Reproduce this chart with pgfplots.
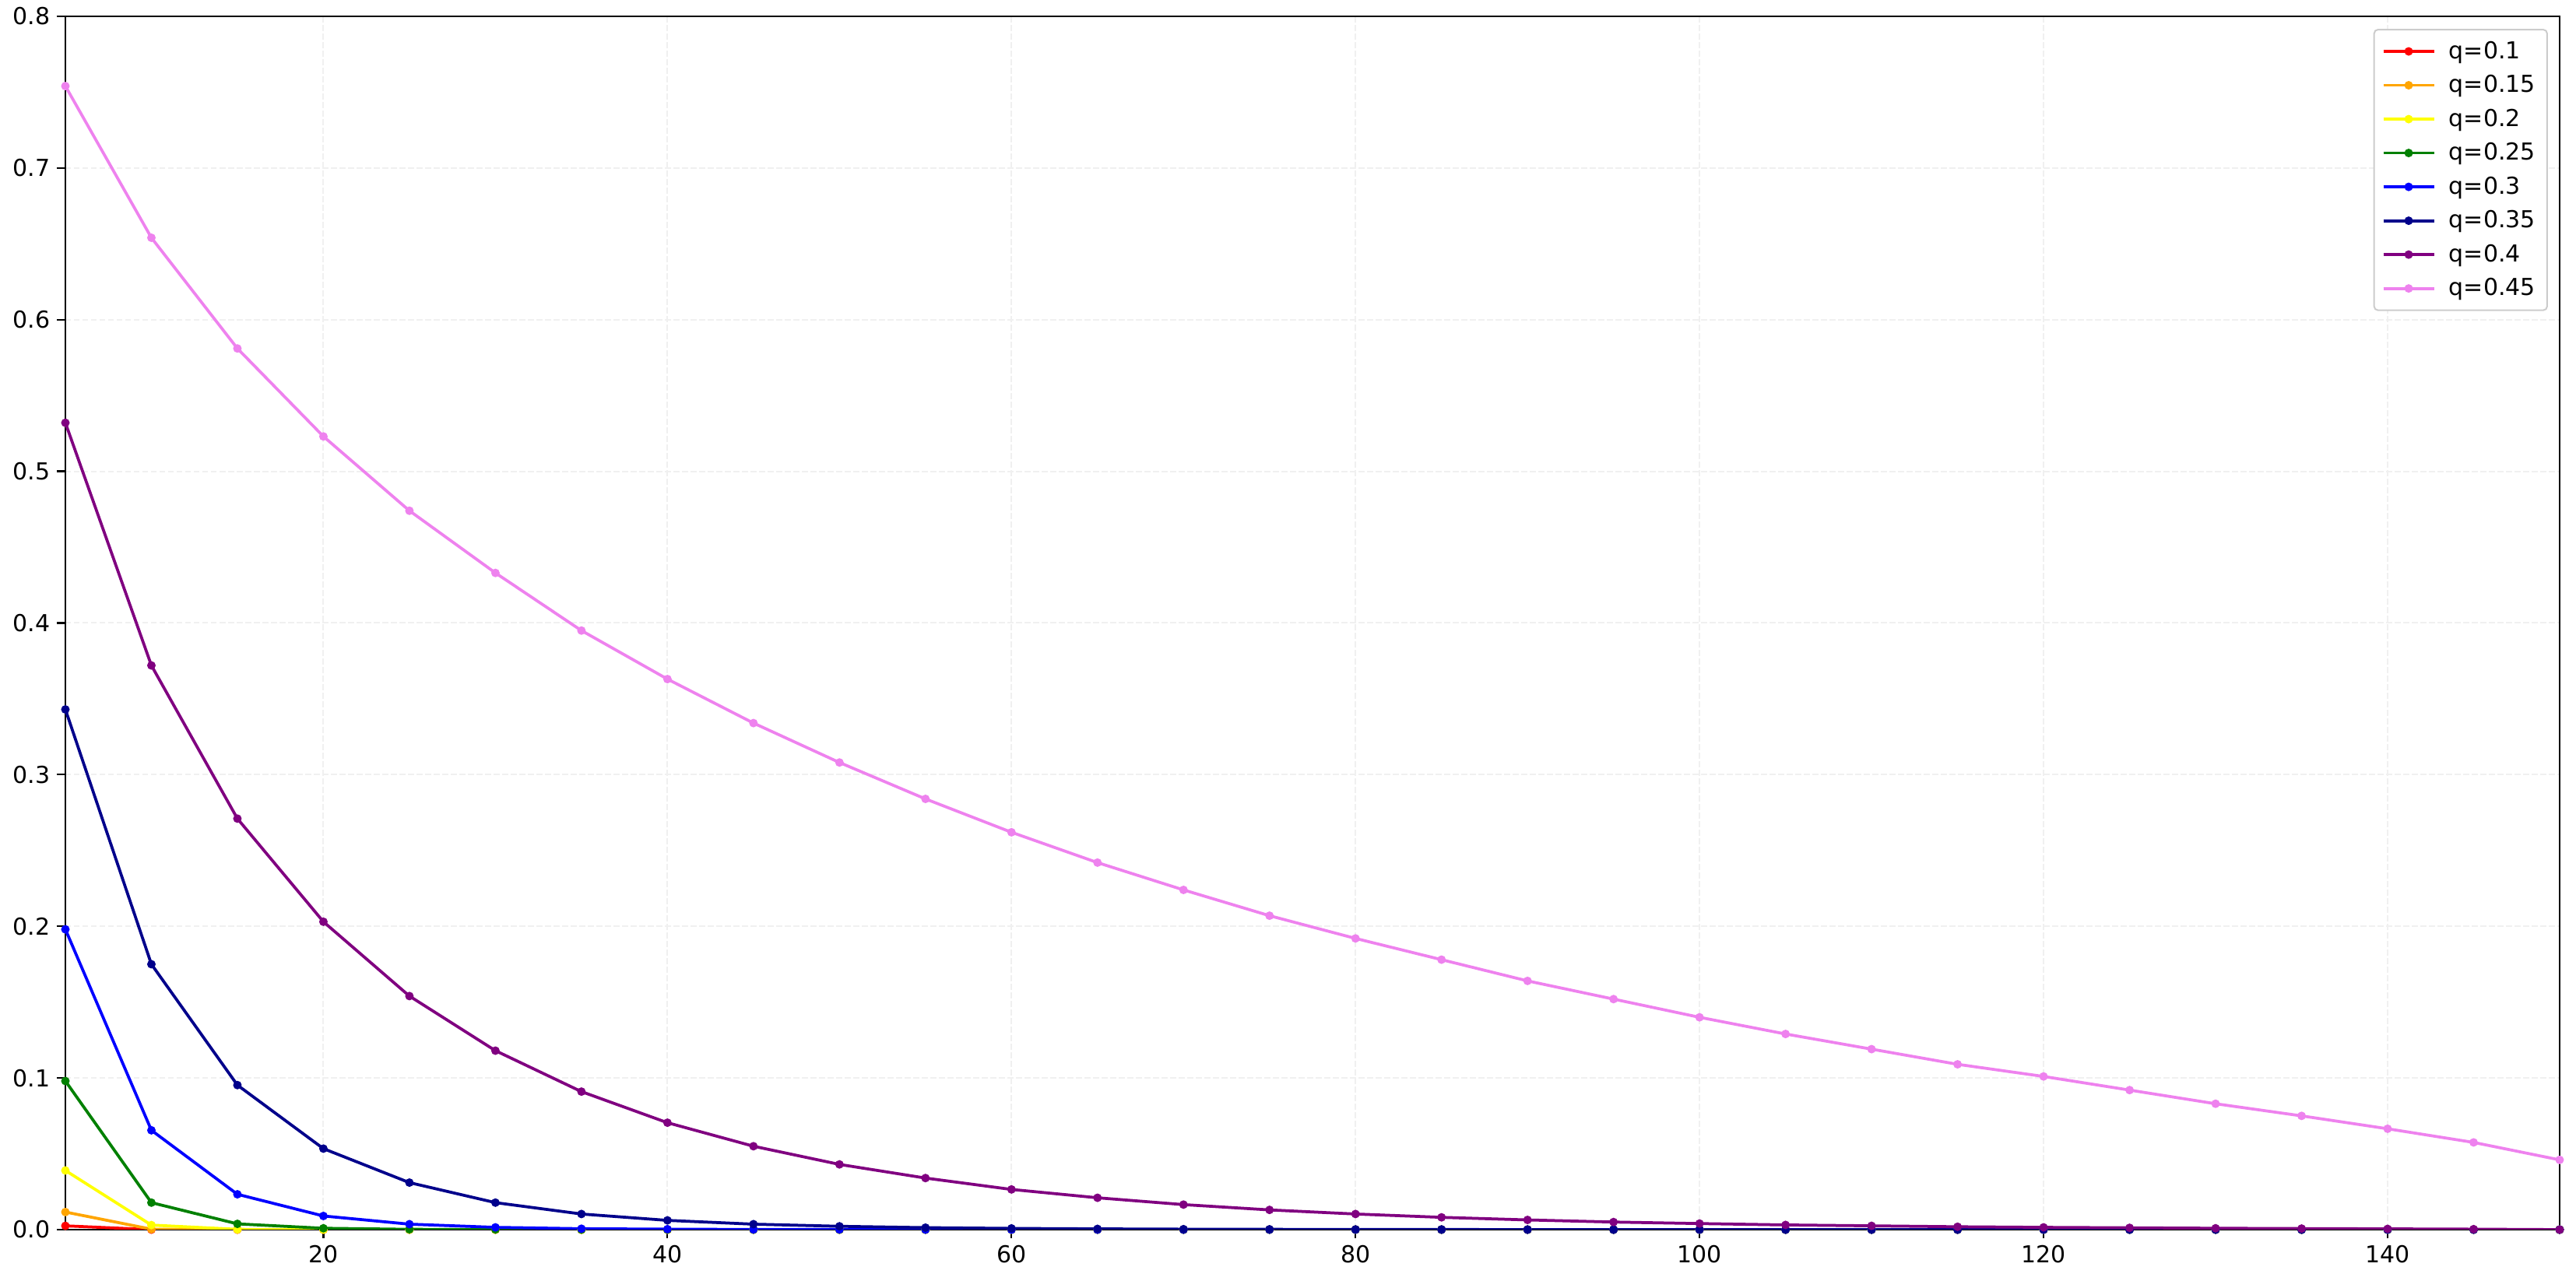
\documentclass[border=0pt]{standalone}
\usepackage{fontspec}
\setmainfont{DejaVu Sans}
\usepackage{pgfplots}
\usepackage{pgfplotstable}
\pgfplotsset{compat=1.18}

\definecolor{mRed}{RGB}{255,0,0}
\definecolor{mOrange}{RGB}{255,165,0}
\definecolor{mYellow}{RGB}{255,255,0}
\definecolor{mGreen}{RGB}{0,128,0}
\definecolor{mBlue}{RGB}{0,0,255}
\definecolor{mNavy}{RGB}{0,0,139}
\definecolor{mPurple}{RGB}{128,0,128}
\definecolor{mViolet}{RGB}{238,130,238}

% probability vs x, one column per q
\pgfplotstableread{
x    q10    q15    q20    q25    q30    q35    q40    q45
5    0.0025 0.0116 0.0390 0.0980 0.1980 0.3430 0.5320 0.7540
10   0.0000 0.0003 0.0030 0.0178 0.0655 0.1750 0.3720 0.6540
15   0      0      0.0002 0.0038 0.0233 0.0953 0.2710 0.5810
20   0      0      0      0.0009 0.0090 0.0534 0.2030 0.5230
25   0      0      0      0.0002 0.0036 0.0310 0.1540 0.4740
30   0      0      0      0.0001 0.0015 0.0178 0.1180 0.4330
35   0      0      0      0      0.0006 0.0103 0.0910 0.3950
40   0      0      0      0      0.0003 0.0061 0.0705 0.3630
45   0      0      0      0      0.0001 0.0036 0.0550 0.3340
50   0      0      0      0      0.0001 0.0022 0.0430 0.3080
55   0      0      0      0      0      0.0013 0.0340 0.2840
60   0      0      0      0      0      0.0008 0.0265 0.2620
65   0      0      0      0      0      0.0005 0.0210 0.2420
70   0      0      0      0      0      0.0003 0.0165 0.2240
75   0      0      0      0      0      0.0002 0.0130 0.2070
80   0      0      0      0      0      0.0001 0.0103 0.1920
85   0      0      0      0      0      0.0001 0.0081 0.1780
90   0      0      0      0      0      0      0.0064 0.1640
95   0      0      0      0      0      0      0.0050 0.1520
100  0      0      0      0      0      0      0.0040 0.1400
105  0      0      0      0      0      0      0.0031 0.1290
110  0      0      0      0      0      0      0.0025 0.1190
115  0      0      0      0      0      0      0.0019 0.1090
120  0      0      0      0      0      0      0.0015 0.1010
125  0      0      0      0      0      0      0.0012 0.0920
130  0      0      0      0      0      0      0.0009 0.0830
135  0      0      0      0      0      0      0.0007 0.0750
140  0      0      0      0      0      0      0.0005 0.0665
145  0      0      0      0      0      0      0.0003 0.0575
150  0      0      0      0      0      0      0.0000 0.0460
}\data

\begin{document}
\begin{tikzpicture}
  \path[use as bounding box] (-33.6pt,-22.8pt) rectangle (1290pt,632pt);
  \begin{axis}[
    scale only axis,
    width=1281.6pt, height=623.6pt,
    xmin=5, xmax=150, ymin=0, ymax=0.8,
    xtick={20,40,60,80,100,120,140},
    ytick={0,0.1,0.2,0.3,0.4,0.5,0.6,0.7,0.8},
    yticklabel style={/pgf/number format/.cd, fixed, fixed zerofill, precision=1},
    /pgf/number format/assume math mode=true,
    ticklabel style={font=\fontsize{12}{14}\selectfont},
    tick pos=left,
    tick align=outside,
    major tick length=4.4pt,
    tick style={black, line width=0.9pt},
    axis line style={line width=1pt},
    grid=major,
    major grid style={black!6, line width=0.8pt, dash pattern=on 3pt off 1.4pt},
    every axis plot/.append style={line width=1.5pt, mark=*, mark size=1.4pt},
    legend image code/.code={\draw[mark repeat=2, mark phase=2]
      plot coordinates {(0pt,0pt) (13pt,0pt) (26pt,0pt)};},
    legend cell align=left,
    legend style={at={(0.9953,0.9897)}, anchor=north east,
      draw=black!20, rounded corners=2pt, line width=0.8pt,
      font=\fontsize{12}{14}\selectfont, row sep=3pt,
      inner xsep=4pt, inner ysep=4pt,
      /tikz/every odd column/.append style={column sep=5pt}},
  ]
    \addplot[mRed] table[x=x, y=q10] {\data};
    \addlegendentry{q=0.1}
    \addplot[mOrange] table[x=x, y=q15] {\data};
    \addlegendentry{q=0.15}
    \addplot[mYellow] table[x=x, y=q20] {\data};
    \addlegendentry{q=0.2}
    \addplot[mGreen] table[x=x, y=q25] {\data};
    \addlegendentry{q=0.25}
    \addplot[mBlue] table[x=x, y=q30] {\data};
    \addlegendentry{q=0.3}
    \addplot[mNavy] table[x=x, y=q35] {\data};
    \addlegendentry{q=0.35}
    \addplot[mPurple] table[x=x, y=q40] {\data};
    \addlegendentry{q=0.4}
    \addplot[mViolet] table[x=x, y=q45] {\data};
    \addlegendentry{q=0.45}
  \end{axis}
\end{tikzpicture}
\end{document}
